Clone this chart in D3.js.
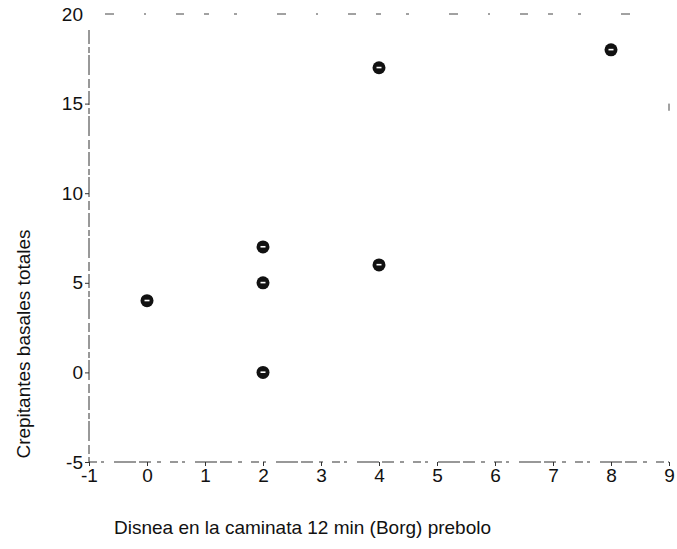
<!DOCTYPE html>
<html>
<head>
<meta charset="utf-8">
<script src="https://cdn.jsdelivr.net/npm/d3@7"></script>
<style>
  body { margin: 0; background: #fff; }
  text { font-family: "Liberation Sans", Arial, sans-serif; fill: #111; }
</style>
</head>
<body>
<div id="chart"></div>
<script>
// data
var disnea = [0, 2, 2, 2, 4, 4, 8];
var crepitantes = [4, 7, 5, 0, 17, 6, 18];
var xTicks = [-1, 0, 1, 2, 3, 4, 5, 6, 7, 8, 9];
var yTicks = [-5, 0, 5, 10, 15, 20];

var W = 677, H = 549;
var margin = { top: 14, right: 8, bottom: 87, left: 89 };
var width = W - margin.left - margin.right,
    height = H - margin.top - margin.bottom;

var svg = d3.select("#chart").append("svg")
    .attr("width", W)
    .attr("height", H);

var g = svg.append("g")
    .attr("transform", "translate(" + margin.left + "," + margin.top + ")");

var x = d3.scaleLinear().domain([-1, 9]).range([0, width]);
var y = d3.scaleLinear().domain([-5, 20]).range([height, 0]);

// plain hyphen for negatives, like the original
var fmt = function(d) { return d < 0 ? "-" + Math.abs(d) : String(d); };

// frame, drawn broken like the scan
g.append("line")
    .attr("x1", 0).attr("x2", 0)
    .attr("y1", 16).attr("y2", height)
    .attr("stroke", "#333").attr("stroke-width", 1)
    .attr("stroke-dasharray", "14,3,6,2,20,4,9,3");
g.append("line")
    .attr("x1", 0).attr("x2", width)
    .attr("y1", height).attr("y2", height)
    .attr("stroke", "#333").attr("stroke-width", 1.2)
    .attr("stroke-dasharray", "8,4,3,10,22,3,12,6,4,9");
g.append("line")
    .attr("x1", 16).attr("x2", width - 20)
    .attr("y1", 0).attr("y2", 0)
    .attr("stroke", "#444").attr("stroke-width", 1)
    .attr("stroke-dasharray", "9,30,2,30,8,20,5,25,3,40");
// only a speck of the right border survived the scan
g.append("line")
    .attr("x1", width).attr("x2", width)
    .attr("y1", y(15)).attr("y2", y(14.6))
    .attr("stroke", "#444").attr("stroke-width", 1);

var xAxis = d3.axisBottom(x).tickValues(xTicks).tickSize(4).tickPadding(3)
    .tickFormat(fmt);
var yAxis = d3.axisLeft(y).tickValues(yTicks).tickSize(4).tickPadding(2)
    .tickFormat(fmt);

var gx = g.append("g")
    .attr("transform", "translate(0," + height + ")")
    .call(xAxis);
var gy = g.append("g").call(yAxis);

[gx, gy].forEach(function(a) {
    a.select(".domain").remove();
    a.selectAll(".tick line").attr("stroke", "#333");
    a.selectAll(".tick text")
        .style("font-size", "19px")
        .style("font-family", "'Liberation Sans', Arial, sans-serif")
        .attr("fill", "#111");
});
gy.select(".tick:last-of-type line").remove();

// points
var pts = g.selectAll("g.pt")
    .data(disnea.map(function(d, i) { return { x: d, y: crepitantes[i] }; }))
    .enter().append("g")
    .attr("class", "pt")
    .attr("transform", function(d) {
        return "translate(" + x(d.x) + "," + y(d.y) + ")";
    });
pts.append("circle")
    .attr("r", 6.5)
    .attr("fill", "#111");
pts.append("rect")
    .attr("x", -2.5).attr("y", -1)
    .attr("width", 5).attr("height", 1.6)
    .attr("fill", "#fff");

// axis titles
svg.append("text")
    .attr("x", 114)
    .attr("y", 534)
    .style("font-size", "19px")
    .text("Disnea en la caminata 12 min (Borg) prebolo");

svg.append("text")
    .attr("transform", "translate(30,344) rotate(-90)")
    .attr("text-anchor", "middle")
    .style("font-size", "19px")
    .text("Crepitantes basales totales");
</script>
</body>
</html>
